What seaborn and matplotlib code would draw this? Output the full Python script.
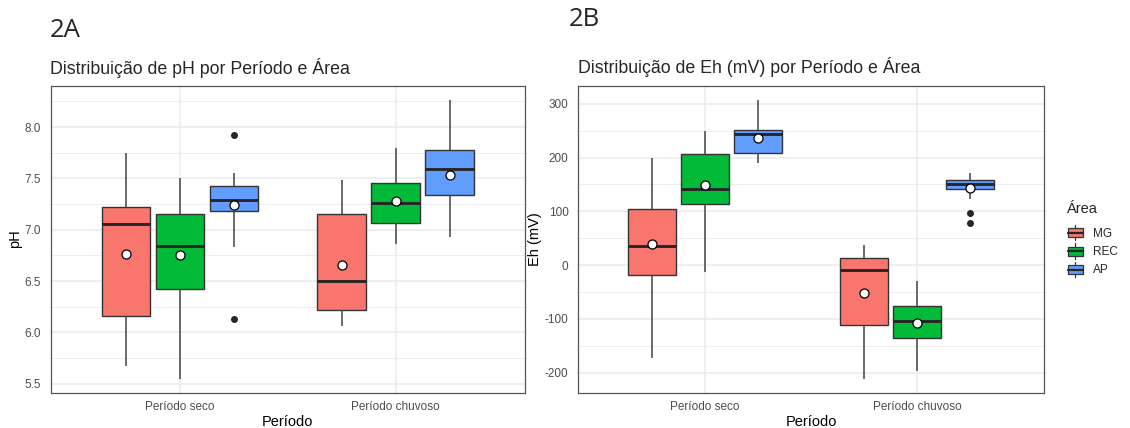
import matplotlib
matplotlib.use("Agg")
import matplotlib.pyplot as plt
import pandas as pd
import seaborn as sns
from matplotlib.patches import Patch, Rectangle
from matplotlib.lines import Line2D
from matplotlib.legend_handler import HandlerBase
from matplotlib.ticker import MultipleLocator

# ---- categories -------------------------------------------------------------
periodos = ["Período seco", "Período chuvoso"]
areas = ["MG", "REC", "AP"]
cores = ["#F8766D", "#00BA38", "#619CFF"]

# ---- pH observations --------------------------------------------------------
ph_seco_mg = [5.67, 5.80, 5.95, 6.16, 6.40, 6.75, 7.06, 7.10, 7.15, 7.22, 7.30, 7.57, 7.75]
ph_seco_rec = [5.55, 6.00, 6.30, 6.42, 6.60, 6.75, 6.84, 6.95, 7.05, 7.15, 7.25, 7.40, 7.50]
ph_seco_ap = [6.13, 6.83, 7.10, 7.18, 7.22, 7.26, 7.29, 7.33, 7.40, 7.43, 7.53, 7.55, 7.92]
ph_chuv_mg = [6.06, 6.18, 6.22, 6.45, 6.50, 6.70, 7.15, 7.20, 7.48]
ph_chuv_rec = [6.86, 7.00, 7.07, 7.18, 7.26, 7.35, 7.46, 7.54, 7.80]
ph_chuv_ap = [6.93, 7.05, 7.34, 7.40, 7.59, 7.65, 7.78, 7.82, 8.26]

# ---- Eh (mV) observations ---------------------------------------------------
eh_seco_mg = [-173, -60, -18, 10, 35, 80, 105, 181, 200]
eh_seco_rec = [-13, 100, 114, 130, 142, 175, 207, 227, 250]
eh_seco_ap = [189, 195, 209, 230, 243, 247, 251, 257, 307]
eh_chuv_mg = [-212, -160, -111, -50, -10, 5, 13, 23, 38]
eh_chuv_rec = [-197, -160, -135, -120, -105, -90, -77, -50, -29]
eh_chuv_ap = [79, 96, 122, 142, 147, 149, 151, 155, 158, 159, 165, 170, 172]


def long_form(groups, var):
    rows = []
    for (periodo, area), vals in groups.items():
        rows.extend((periodo, area, v) for v in vals)
    return pd.DataFrame(rows, columns=["Período", "Área", var])


df_ph = long_form({
    ("Período seco", "MG"): ph_seco_mg,
    ("Período seco", "REC"): ph_seco_rec,
    ("Período seco", "AP"): ph_seco_ap,
    ("Período chuvoso", "MG"): ph_chuv_mg,
    ("Período chuvoso", "REC"): ph_chuv_rec,
    ("Período chuvoso", "AP"): ph_chuv_ap,
}, "pH")

df_eh = long_form({
    ("Período seco", "MG"): eh_seco_mg,
    ("Período seco", "REC"): eh_seco_rec,
    ("Período seco", "AP"): eh_seco_ap,
    ("Período chuvoso", "MG"): eh_chuv_mg,
    ("Período chuvoso", "REC"): eh_chuv_rec,
    ("Período chuvoso", "AP"): eh_chuv_ap,
}, "Eh")

# ---- theme ------------------------------------------------------------------
sns.set_theme(style="white")
plt.rcParams["font.family"] = ["Liberation Sans", "DejaVu Sans"]
plt.rcParams["axes.unicode_minus"] = False

W, H = 1130, 428
fig = plt.figure(figsize=(W / 100, H / 100), dpi=100)
axA = fig.add_axes([50.5 / W, 35 / H, 474.5 / W, 307 / H])
axB = fig.add_axes([578 / W, 35 / H, 466 / W, 307 / H])

box_kws = dict(
    x="Período", hue="Área", order=periodos, hue_order=areas,
    palette=cores, saturation=1, width=0.75, gap=0.1,
    linecolor="#333333", linewidth=1.0, whis=1.5,
    showmeans=True, capwidths=0, legend=False,
    meanprops=dict(marker="o", markerfacecolor="white", markeredgecolor="black",
                   markersize=6.5, markeredgewidth=0.9, zorder=5),
    medianprops=dict(linewidth=2.1, color="#262626"),
    whiskerprops=dict(color="#444444", linewidth=1.1),
    flierprops=dict(marker="o", markerfacecolor="#262626",
                    markeredgecolor="#262626", markersize=4),
)

sns.boxplot(data=df_ph, y="pH", ax=axA, **box_kws)
sns.boxplot(data=df_eh, y="Eh", ax=axB, **box_kws)


def style_axes(ax, ylim, major, minor):
    ax.set_xlim(-0.6, 1.6)
    ax.set_ylim(*ylim)
    ax.yaxis.set_major_locator(MultipleLocator(major))
    ax.yaxis.set_minor_locator(MultipleLocator(minor))
    ax.set_axisbelow(True)
    ax.grid(True, which="major", color="#EBEBEB", linewidth=1.1)
    ax.grid(True, which="minor", axis="y", color="#EBEBEB", linewidth=0.6)
    ax.tick_params(which="minor", length=0)
    ax.tick_params(which="major", length=3.8, width=0.6, color="#333333",
                   labelcolor="#4D4D4D", labelsize=8.5)
    ax.tick_params(axis="x", pad=2)
    ax.tick_params(axis="y", pad=3)
    for s in ax.spines.values():
        s.set_visible(True)
        s.set_color("#555555")
        s.set_linewidth(0.9)


style_axes(axA, (5.41, 8.40), 0.5, 0.25)
style_axes(axB, (-238, 333), 100, 50)

# titles and axis labels
axA.set_title("Distribuição de pH por Período e Área", loc="left", fontsize=12.8, pad=8.6)
axB.set_title("Distribuição de Eh (mV) por Período e Área", loc="left", fontsize=12.8, pad=9.3)

for ax, ylab, ylab_x, xcen in [(axA, "pH", 15, 287.8), (axB, "Eh (mV)", 535.5, 811)]:
    ax.set_ylabel(ylab, fontsize=10.5, color="black")
    ax.yaxis.set_label_coords(ylab_x / W, 1 - 239 / H, transform=fig.transFigure)
    ax.yaxis.label.set_va("center")
    ax.set_xlabel("Período", fontsize=10.5, color="black")
    ax.xaxis.set_label_coords(xcen / W, 1 - 426 / H, transform=fig.transFigure)
    ax.xaxis.label.set_va("baseline")

fig.text(50 / W, 1 - 36.7 / H, "2A", fontsize=18.5, family="Open Sans", va="baseline")
fig.text(569 / W, 1 - 26 / H, "2B", fontsize=18.5, family="Open Sans", va="baseline")


# legend keys drawn as small boxplot glyphs
class BoxKey(HandlerBase):
    def create_artists(self, legend, orig_handle, xdescent, ydescent,
                       width, height, fontsize, trans):
        x0, y0 = -xdescent, -ydescent
        fc = orig_handle.get_facecolor()
        xm = x0 + width / 2
        w_lo = Line2D([xm, xm], [y0, y0 + 0.2 * height], color="#333333", lw=0.9, transform=trans)
        w_hi = Line2D([xm, xm], [y0 + 0.8 * height, y0 + height], color="#333333", lw=0.9, transform=trans)
        rect = Rectangle((x0, y0 + 0.2 * height), width, 0.6 * height, facecolor=fc,
                         edgecolor="#333333", lw=0.9, transform=trans)
        med = Line2D([x0, x0 + width], [y0 + 0.5 * height] * 2, color="#262626", lw=1.6, transform=trans)
        return [w_lo, w_hi, rect, med]


fig.text(1067 / W, 1 - 209 / H, "Área", fontsize=10.5, va="center", ha="left")
handles = [Patch(facecolor=c) for c in cores]
fig.legend(handles, areas, loc="upper left",
           bbox_to_anchor=(1068 / W, 1 - 225 / H), frameon=False,
           fontsize=8.5, handler_map={Patch: BoxKey()},
           handlelength=1.27, handleheight=1.64, labelspacing=0.25,
           handletextpad=0.82, borderaxespad=0, borderpad=0)

fig.savefig("out.png", dpi=100)
